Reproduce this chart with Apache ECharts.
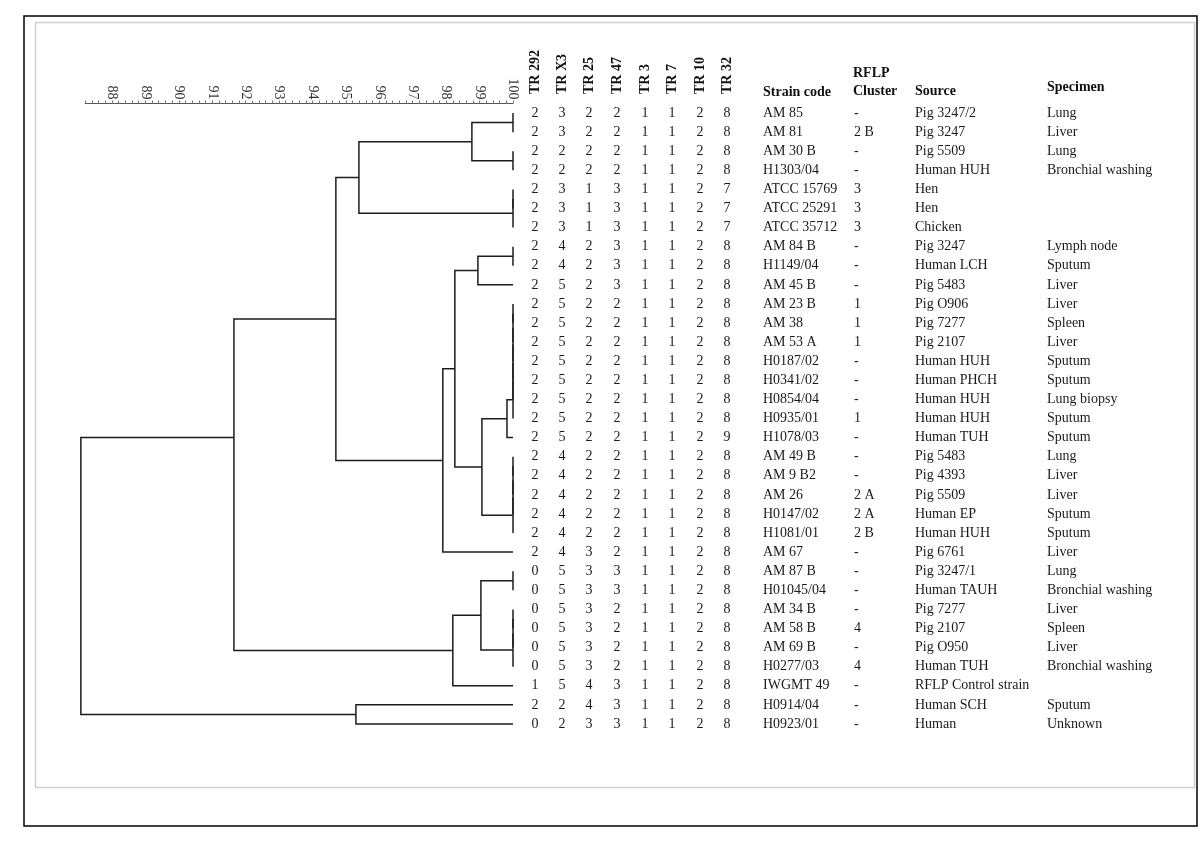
<!DOCTYPE html>
<html><head><meta charset="utf-8">
<script src="https://cdn.jsdelivr.net/npm/echarts@6/dist/echarts.min.js"></script>
<style>html,body{margin:0;padding:0;background:#fff}#c{width:1200px;height:849px}</style>
</head><body><div id="c"></div>
<script>
// ---------------- DATA ----------------
const axisTickLabels = [88, 89, 90, 91, 92, 93, 94, 95, 96, 97, 98, 99, 100];
const trHeaders = ['TR 292', 'TR X3', 'TR 25', 'TR 47', 'TR 3', 'TR 7', 'TR 10', 'TR 32'];
const infoHeaders = ['Strain code', 'RFLP', 'Cluster', 'Source', 'Specimen'];

const strainCodes = ['AM 85', 'AM 81', 'AM 30 B', 'H1303/04', 'ATCC 15769', 'ATCC 25291', 'ATCC 35712',
  'AM 84 B', 'H1149/04', 'AM 45 B', 'AM 23 B', 'AM 38', 'AM 53 A', 'H0187/02', 'H0341/02', 'H0854/04',
  'H0935/01', 'H1078/03', 'AM 49 B', 'AM 9 B2', 'AM 26', 'H0147/02', 'H1081/01', 'AM 67', 'AM 87 B',
  'H01045/04', 'AM 34 B', 'AM 58 B', 'AM 69 B', 'H0277/03', 'IWGMT 49', 'H0914/04', 'H0923/01'];
const tr292 = [2,2,2,2,2,2,2,2,2,2,2,2,2,2,2,2,2,2,2,2,2,2,2,2,0,0,0,0,0,0,1,2,0];
const trX3  = [3,3,2,2,3,3,3,4,4,5,5,5,5,5,5,5,5,5,4,4,4,4,4,4,5,5,5,5,5,5,5,2,2];
const tr25  = [2,2,2,2,1,1,1,2,2,2,2,2,2,2,2,2,2,2,2,2,2,2,2,3,3,3,3,3,3,3,4,4,3];
const tr47  = [2,2,2,2,3,3,3,3,3,3,2,2,2,2,2,2,2,2,2,2,2,2,2,2,3,3,2,2,2,2,3,3,3];
const tr3   = [1,1,1,1,1,1,1,1,1,1,1,1,1,1,1,1,1,1,1,1,1,1,1,1,1,1,1,1,1,1,1,1,1];
const tr7   = [1,1,1,1,1,1,1,1,1,1,1,1,1,1,1,1,1,1,1,1,1,1,1,1,1,1,1,1,1,1,1,1,1];
const tr10  = [2,2,2,2,2,2,2,2,2,2,2,2,2,2,2,2,2,2,2,2,2,2,2,2,2,2,2,2,2,2,2,2,2];
const tr32  = [8,8,8,8,7,7,7,8,8,8,8,8,8,8,8,8,8,9,8,8,8,8,8,8,8,8,8,8,8,8,8,8,8];
const rflpCluster = ['-','2 B','-','-','3','3','3','-','-','-','1','1','1','-','-','-','1','-','-','-',
  '2 A','2 A','2 B','-','-','-','-','4','-','4','-','-','-'];
const source = ['Pig 3247/2','Pig 3247','Pig 5509','Human HUH','Hen','Hen','Chicken','Pig 3247','Human LCH',
  'Pig 5483','Pig O906','Pig 7277','Pig 2107','Human HUH','Human PHCH','Human HUH','Human HUH','Human TUH',
  'Pig 5483','Pig 4393','Pig 5509','Human EP','Human HUH','Pig 6761','Pig 3247/1','Human TAUH','Pig 7277',
  'Pig 2107','Pig O950','Human TUH','RFLP Control strain','Human SCH','Human'];
const specimen = ['Lung','Liver','Lung','Bronchial washing','','','','Lymph node','Sputum','Liver','Liver',
  'Spleen','Liver','Sputum','Sputum','Lung biopsy','Sputum','Sputum','Lung','Liver','Liver','Sputum','Sputum',
  'Liver','Lung','Bronchial washing','Liver','Spleen','Liver','Bronchial washing','','Sputum','Unknown'];

// dendrogram: internal nodes (similarity %, two children: rN = row, nN = node)
const nodeSimilarity = [100,100,98.77,100,100,95.39,100,98.95,100,100,100,100,100,100,99.82,100,100,100,100,
  99.07,98.26,97.90,94.70,100,100,100,100,99.04,98.20,91.65,95.30,87.07];
const nodeChildA = ['r0','r2','n0','r4','n3','n2','r7','n6','r10','n8','n9','n10','n11','n12','n13','r18',
  'n15','n16','n17','n14','n7','n20','n5','r24','r26','n24','n25','n23','n27','n22','r31','n29'];
const nodeChildB = ['r1','r3','n1','r5','r6','n4','r8','r9','r11','r12','r13','r14','r15','r16','r17','r19',
  'r20','r21','r22','n18','n19','r23','n21','r25','r27','r28','r29','n26','r30','n28','r32','n30'];
const nodeRowOverride = {29: 17};

// ---------------- LAYOUT ----------------
const rowCount = strainCodes.length;
const gridTop = 103.5, rowStep = 19.09;
const gridBottom = 849 - (gridTop + rowCount * rowStep);
const serif = '"Liberation Serif", "Times New Roman", serif';
const trColX = [535, 562, 589, 617, 645, 672, 700, 727];
const infoColX = [763, 854, 915, 1047];

function rowOf(id) {
  if (id[0] === 'r') return parseInt(id.slice(1), 10);
  const i = parseInt(id.slice(1), 10);
  if (nodeRowOverride[i] !== undefined) return nodeRowOverride[i];
  return (rowOf(nodeChildA[i]) + rowOf(nodeChildB[i])) / 2;
}
function simOf(id) {
  if (id[0] === 'r') return 100;
  return nodeSimilarity[parseInt(id.slice(1), 10)];
}
const dendroData = nodeSimilarity.map((s, i) => [s, rowOf('n' + i)]);

const tableColumns = [
  {vals: tr292, x: trColX[0], align: 'center'},
  {vals: trX3, x: trColX[1], align: 'center'},
  {vals: tr25, x: trColX[2], align: 'center'},
  {vals: tr47, x: trColX[3], align: 'center'},
  {vals: tr3, x: trColX[4], align: 'center'},
  {vals: tr7, x: trColX[5], align: 'center'},
  {vals: tr10, x: trColX[6], align: 'center'},
  {vals: tr32, x: trColX[7], align: 'center'},
  {vals: strainCodes, x: infoColX[0], align: 'left'},
  {vals: rflpCluster, x: infoColX[1], align: 'left'},
  {vals: source, x: infoColX[2], align: 'left'},
  {vals: specimen, x: infoColX[3], align: 'left'}
];

const tableSeries = tableColumns.map(col => ({
  type: 'custom',
  xAxisIndex: 1, yAxisIndex: 1,
  silent: true,
  data: col.vals.map((v, r) => [col.x, r]),
  renderItem: (params, api) => {
    const p = api.coord([api.value(0), api.value(1)]);
    return {
      type: 'text',
      style: {
        text: String(col.vals[params.dataIndex]),
        x: p[0], y: p[1],
        textAlign: col.align, textVerticalAlign: 'middle',
        fill: '#1a1a1a', font: '14px ' + serif
      }
    };
  }
}));

const dendroSeries = {
  type: 'custom',
  xAxisIndex: 0, yAxisIndex: 0,
  clip: false, silent: true,
  data: dendroData,
  renderItem: (params, api) => {
    const i = params.dataIndex;
    const a = nodeChildA[i], b = nodeChildB[i];
    const pA0 = api.coord([simOf(a), rowOf(a)]);
    const pA1 = api.coord([api.value(0), rowOf(a)]);
    const pB1 = api.coord([api.value(0), rowOf(b)]);
    const pB0 = api.coord([simOf(b), rowOf(b)]);
    return {
      type: 'polyline',
      shape: {points: [pA0, pA1, pB1, pB0]},
      style: {stroke: '#1c1c1c', lineWidth: 1.5, fill: null}
    };
  }
};

const graphics = [
  {type: 'rect', shape: {x: 24, y: 16, width: 1173, height: 810},
   style: {fill: null, stroke: '#000', lineWidth: 1.5}, silent: true},
  {type: 'rect', shape: {x: 35.5, y: 22.5, width: 1159, height: 765},
   style: {fill: null, stroke: '#cfcfcf', lineWidth: 1.5}, silent: true}
];
trHeaders.forEach((h, k) => {
  graphics.push({type: 'text', x: trColX[k], y: 94, rotation: Math.PI / 2, silent: true,
    style: {text: h, font: 'bold 14px ' + serif, fill: '#111', textAlign: 'left', textVerticalAlign: 'middle'}});
});
const infoHeaderPos = [[763, 92], [853, 73], [853, 91], [915, 91], [1047, 87]];
infoHeaders.forEach((h, k) => {
  graphics.push({type: 'text', x: infoHeaderPos[k][0], y: infoHeaderPos[k][1], silent: true,
    style: {text: h, font: 'bold 14px ' + serif, fill: '#111', textAlign: 'left', textVerticalAlign: 'middle'}});
});

const chart = echarts.init(document.getElementById('c'), null, {renderer: 'canvas'});
chart.setOption({
  animation: false,
  backgroundColor: '#fff',
  grid: [
    {left: 85.2, width: 427.8, top: gridTop, bottom: gridBottom, containLabel: false},
    {left: 0, right: 0, top: gridTop, bottom: gridBottom, containLabel: false}
  ],
  xAxis: [
    {gridIndex: 0, type: 'value', position: 'top', min: 87.2, max: 100, interval: 0.2,
     axisLine: {show: true, onZero: false, lineStyle: {color: '#555', width: 1}},
     axisTick: {show: true, length: 3, lineStyle: {color: '#777', width: 1}},
     splitLine: {show: false},
     axisLabel: {show: true, rotate: 90, margin: 4, interval: 0, color: '#333', fontSize: 14, fontFamily: serif,
       formatter: v => { const r = Math.round(v); return (Math.abs(v - r) < 1e-6 && axisTickLabels.includes(r)) ? String(r) : ''; }}},
    {gridIndex: 1, type: 'value', min: 0, max: 1200, show: false}
  ],
  yAxis: [
    {gridIndex: 0, type: 'value', min: -0.5, max: rowCount - 0.5, inverse: true, show: false},
    {gridIndex: 1, type: 'value', min: -0.5, max: rowCount - 0.5, inverse: true, show: false}
  ],
  graphic: graphics,
  series: [dendroSeries].concat(tableSeries)
});
</script>
</body></html>
